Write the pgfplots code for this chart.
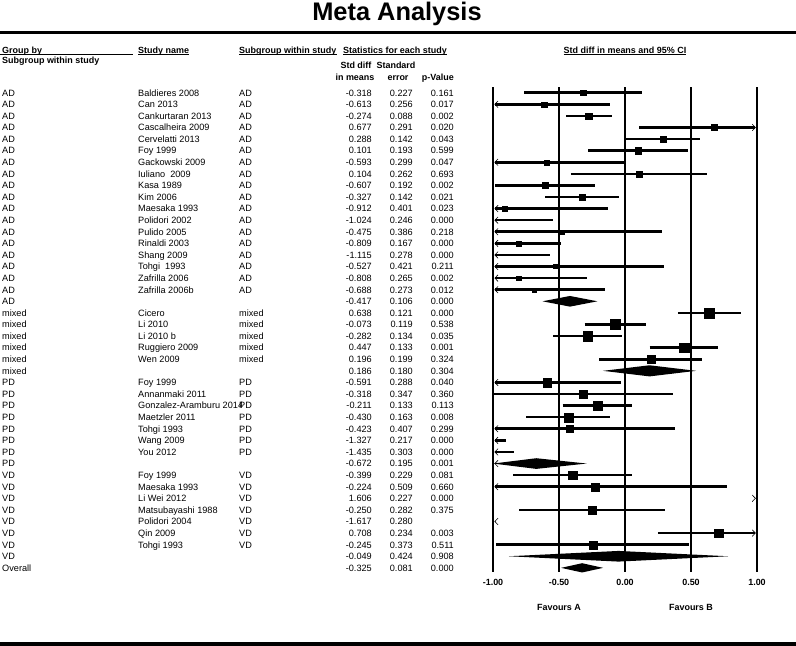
\documentclass[border=0pt]{standalone}
\usepackage{fontspec}
\setmainfont{Liberation Sans}
\usepackage{pgfplots}
\pgfplotsset{compat=1.18}
\pgfdeclareplotmark{lchev}{\pgfpathmoveto{\pgfqpoint{3.2bp}{3.3bp}}\pgfpathlineto{\pgfqpoint{0bp}{0bp}}\pgfpathlineto{\pgfqpoint{3.2bp}{-3.3bp}}\pgfusepathqstroke}
\pgfdeclareplotmark{rchev}{\pgfpathmoveto{\pgfqpoint{-3.2bp}{3.3bp}}\pgfpathlineto{\pgfqpoint{0bp}{0bp}}\pgfpathlineto{\pgfqpoint{-3.2bp}{-3.3bp}}\pgfusepathqstroke}
\pgfplotsset{
  ci/.style={black, line width=2.6bp, mark=none},
  sq/.style={only marks, mark=square*, mark options={fill=black, draw=black, line width=0.1bp}},
  dia/.style={fill=black, draw=none, mark=none},
}
\newcommand{\tf}{\fontsize{9.2}{11}\selectfont}
\newcommand{\hf}{\fontsize{9}{11}\selectfont\bfseries}
\newcommand{\ci}[3]{\addplot[ci] coordinates {(#2,-#1) (#3,-#1)};}
\newcommand{\sq}[3]{\addplot[sq, mark size=#3bp] coordinates {(#2,-#1)};}
\newcommand{\lch}[1]{\addplot[only marks, mark=lchev, mark options={black, line width=0.6bp}] coordinates {(-0.986,-#1)};}
\newcommand{\rch}[1]{\addplot[only marks, mark=rchev, mark options={black, line width=0.6bp}] coordinates {(0.988,-#1)};}
\newcommand{\trow}[7]{%
  \pgfmathsetmacro{\yy}{-(92.7+(#1-1)*11.59+3.3)}%
  \node[anchor=base west] at (2bp,\yy bp) {#2};%
  \node[anchor=base west] at (138bp,\yy bp) {#3};%
  \node[anchor=base west] at (239bp,\yy bp) {#4};%
  \node[anchor=base east] at (372bp,\yy bp) {#5};%
  \node[anchor=base east] at (413bp,\yy bp) {#6};%
  \node[anchor=base east] at (454bp,\yy bp) {#7};%
}
\begin{document}
\begin{tikzpicture}
\useasboundingbox (0bp,0bp) rectangle (796bp,-646bp);
% title and rules
\node[anchor=base, inner sep=0pt, font=\fontsize{25.5}{30}\selectfont\bfseries] at (397bp,-20bp) {Meta Analysis};
\fill[black] (0bp,-31bp) rectangle (796bp,-33.7bp);
\fill[black] (0bp,-641.8bp) rectangle (796bp,-646bp);
% headers
\begin{scope}[every node/.style={inner sep=0pt, font=\hf}]
  \node[anchor=base west] at (2bp,-53.3bp) {Group by};
  \draw[line width=0.8bp] (0bp,-54.6bp) -- (133bp,-54.6bp);
  \node[anchor=base west] at (2bp,-63.8bp) {Subgroup within study};
  \node[anchor=base west] (h2) at (138bp,-53.3bp) {Study name};
  \draw[line width=0.8bp] ([yshift=-1.3bp]h2.base west) -- ([yshift=-1.3bp]h2.base east);
  \node[anchor=base west] (h3) at (239bp,-53.3bp) {Subgroup within study};
  \draw[line width=0.8bp] ([yshift=-1.3bp]h3.base west) -- ([yshift=-1.3bp]h3.base east);
  \node[anchor=base west] (h4) at (343bp,-53.3bp) {Statistics for each study};
  \draw[line width=0.8bp] ([yshift=-1.3bp]h4.base west) -- ([yshift=-1.3bp]h4.base east);
  \node[anchor=base] (h5) at (625bp,-53.3bp) {Std diff in means and 95\% CI};
  \draw[line width=0.8bp] ([yshift=-1.3bp]h5.base west) -- ([yshift=-1.3bp]h5.base east);
  \node[anchor=base] at (356bp,-68.3bp) {Std diff};
  \node[anchor=base] at (355bp,-80.3bp) {in means};
  \node[anchor=base] at (396bp,-68.3bp) {Standard};
  \node[anchor=base] at (398bp,-80.3bp) {error};
  \node[anchor=base east] at (454bp,-80.3bp) {p-Value};
  \node[anchor=center] at (559bp,-607bp) {Favours A};
  \node[anchor=center] at (691bp,-607bp) {Favours B};
\end{scope}
% table
\begin{scope}[every node/.style={inner sep=0pt, font=\tf}]
\trow{1}{AD}{Baldieres 2008}{AD}{-0.318}{0.227}{0.161}
\trow{2}{AD}{Can 2013}{AD}{-0.613}{0.256}{0.017}
\trow{3}{AD}{Cankurtaran 2013}{AD}{-0.274}{0.088}{0.002}
\trow{4}{AD}{Cascalheira 2009}{AD}{0.677}{0.291}{0.020}
\trow{5}{AD}{Cervelatti 2013}{AD}{0.288}{0.142}{0.043}
\trow{6}{AD}{Foy 1999}{AD}{0.101}{0.193}{0.599}
\trow{7}{AD}{Gackowski 2009}{AD}{-0.593}{0.299}{0.047}
\trow{8}{AD}{Iuliano\ \ 2009}{AD}{0.104}{0.262}{0.693}
\trow{9}{AD}{Kasa 1989}{AD}{-0.607}{0.192}{0.002}
\trow{10}{AD}{Kim 2006}{AD}{-0.327}{0.142}{0.021}
\trow{11}{AD}{Maesaka 1993}{AD}{-0.912}{0.401}{0.023}
\trow{12}{AD}{Polidori 2002}{AD}{-1.024}{0.246}{0.000}
\trow{13}{AD}{Pulido 2005}{AD}{-0.475}{0.386}{0.218}
\trow{14}{AD}{Rinaldi 2003}{AD}{-0.809}{0.167}{0.000}
\trow{15}{AD}{Shang 2009}{AD}{-1.115}{0.278}{0.000}
\trow{16}{AD}{Tohgi\ \ 1993}{AD}{-0.527}{0.421}{0.211}
\trow{17}{AD}{Zafrilla 2006}{AD}{-0.808}{0.265}{0.002}
\trow{18}{AD}{Zafrilla 2006b}{AD}{-0.688}{0.273}{0.012}
\trow{19}{AD}{}{}{-0.417}{0.106}{0.000}
\trow{20}{mixed}{Cicero}{mixed}{0.638}{0.121}{0.000}
\trow{21}{mixed}{Li 2010}{mixed}{-0.073}{0.119}{0.538}
\trow{22}{mixed}{Li 2010 b}{mixed}{-0.282}{0.134}{0.035}
\trow{23}{mixed}{Ruggiero 2009}{mixed}{0.447}{0.133}{0.001}
\trow{24}{mixed}{Wen 2009}{mixed}{0.196}{0.199}{0.324}
\trow{25}{mixed}{}{}{0.186}{0.180}{0.304}
\trow{26}{PD}{Foy 1999}{PD}{-0.591}{0.288}{0.040}
\trow{27}{PD}{Annanmaki 2011}{PD}{-0.318}{0.347}{0.360}
\trow{28}{PD}{Gonzalez-Aramburu 2014}{PD}{-0.211}{0.133}{0.113}
\trow{29}{PD}{Maetzler 2011}{PD}{-0.430}{0.163}{0.008}
\trow{30}{PD}{Tohgi 1993}{PD}{-0.423}{0.407}{0.299}
\trow{31}{PD}{Wang 2009}{PD}{-1.327}{0.217}{0.000}
\trow{32}{PD}{You 2012}{PD}{-1.435}{0.303}{0.000}
\trow{33}{PD}{}{}{-0.672}{0.195}{0.001}
\trow{34}{VD}{Foy 1999}{VD}{-0.399}{0.229}{0.081}
\trow{35}{VD}{Maesaka 1993}{VD}{-0.224}{0.509}{0.660}
\trow{36}{VD}{Li Wei 2012}{VD}{1.606}{0.227}{0.000}
\trow{37}{VD}{Matsubayashi 1988}{VD}{-0.250}{0.282}{0.375}
\trow{38}{VD}{Polidori 2004}{VD}{-1.617}{0.280}{}
\trow{39}{VD}{Qin 2009}{VD}{0.708}{0.234}{0.003}
\trow{40}{VD}{Tohgi 1993}{VD}{-0.245}{0.373}{0.511}
\trow{41}{VD}{}{}{-0.049}{0.424}{0.908}
\trow{42}{Overall}{}{}{-0.325}{0.081}{0.000}
\end{scope}
% forest plot
\begin{axis}[
  at={(493bp,-571.9bp)}, anchor=south west,
  scale only axis, width=264bp, height=485bp,
  xmin=-1, xmax=1, ymin=-42.35, ymax=-0.5,
  clip=false,
  axis line style={draw=none},
  ytick=\empty,
  xtick={-1,-0.5,0,0.5,1},
  xticklabels={-1.00,-0.50,0.00,0.50,1.00},
  major tick length=0pt,
  tick style={draw=none},
  xmajorgrids, major grid style={black, line width=2.6bp},
  xticklabel style={font=\fontsize{9}{10}\selectfont\bfseries, yshift=-4bp},
]
% AD
\ci{1}{-0.763}{0.127}\sq{1}{-0.318}{2.65}
\ci{2}{-0.986}{-0.111}\lch{2}\sq{2}{-0.613}{2.65}
\ci{3}{-0.446}{-0.102}\sq{3}{-0.274}{3.3}
\ci{4}{0.107}{0.988}\rch{4}\sq{4}{0.677}{3.0}
\ci{5}{0.010}{0.566}\sq{5}{0.288}{3.2}
\ci{6}{-0.277}{0.479}\sq{6}{0.101}{3.2}
\ci{7}{-0.986}{-0.007}\lch{7}\sq{7}{-0.593}{2.65}
\ci{8}{-0.410}{0.618}\sq{8}{0.104}{3.0}
\ci{9}{-0.983}{-0.231}\sq{9}{-0.607}{3.0}
\ci{10}{-0.605}{-0.049}\sq{10}{-0.327}{3.0}
\ci{11}{-0.986}{-0.126}\lch{11}\sq{11}{-0.912}{2.35}
\ci{12}{-0.986}{-0.542}\lch{12}
\ci{13}{-0.986}{0.282}\lch{13}\sq{13}{-0.475}{2.0}
\ci{14}{-0.986}{-0.482}\lch{14}\sq{14}{-0.809}{2.65}
\ci{15}{-0.986}{-0.570}\lch{15}
\ci{16}{-0.986}{0.298}\lch{16}\sq{16}{-0.527}{2.0}
\ci{17}{-0.986}{-0.289}\lch{17}\sq{17}{-0.808}{2.35}
\ci{18}{-0.986}{-0.153}\lch{18}\sq{18}{-0.688}{2.15}
\addplot[dia] coordinates {(-0.625,-19) (-0.417,-18.54) (-0.209,-19) (-0.417,-19.46) (-0.625,-19)};
% mixed
\ci{20}{0.401}{0.875}\sq{20}{0.638}{5.0}
\ci{21}{-0.306}{0.160}\sq{21}{-0.073}{5.0}
\ci{22}{-0.545}{-0.019}\sq{22}{-0.282}{4.75}
\ci{23}{0.186}{0.708}\sq{23}{0.447}{4.75}
\ci{24}{-0.194}{0.586}\sq{24}{0.196}{4.25}
\addplot[dia] coordinates {(-0.167,-25) (0.186,-24.52) (0.539,-25) (0.186,-25.48) (-0.167,-25)};
% PD
\ci{26}{-0.986}{-0.027}\lch{26}\sq{26}{-0.591}{4.25}
\ci{27}{-0.998}{0.362}\sq{27}{-0.318}{3.75}
\ci{28}{-0.472}{0.050}\sq{28}{-0.211}{4.5}
\ci{29}{-0.749}{-0.111}\sq{29}{-0.430}{4.5}
\ci{30}{-0.986}{0.375}\lch{30}\sq{30}{-0.423}{3.5}
\ci{31}{-0.986}{-0.902}\lch{31}
\ci{32}{-0.986}{-0.841}\lch{32}
\addplot[dia] coordinates {(-1.0,-33) (-0.672,-32.54) (-0.290,-33) (-0.672,-33.46) (-1.0,-33)};
\lch{33}
% VD
\ci{34}{-0.848}{0.050}\sq{34}{-0.399}{4.25}
\ci{35}{-0.986}{0.774}\lch{35}\sq{35}{-0.224}{4.0}
\rch{36}
\ci{37}{-0.803}{0.303}\sq{37}{-0.250}{4.25}
\lch{38}
\ci{39}{0.249}{0.988}\rch{39}\sq{39}{0.708}{4.25}
\ci{40}{-0.976}{0.486}\sq{40}{-0.245}{4.0}
\addplot[dia] coordinates {(-0.880,-41) (-0.049,-40.54) (0.782,-41) (-0.049,-41.46) (-0.880,-41)};
% Overall
\addplot[dia] coordinates {(-0.484,-42) (-0.325,-41.6) (-0.166,-42) (-0.325,-42.4) (-0.484,-42)};
\end{axis}
\end{tikzpicture}
\end{document}
